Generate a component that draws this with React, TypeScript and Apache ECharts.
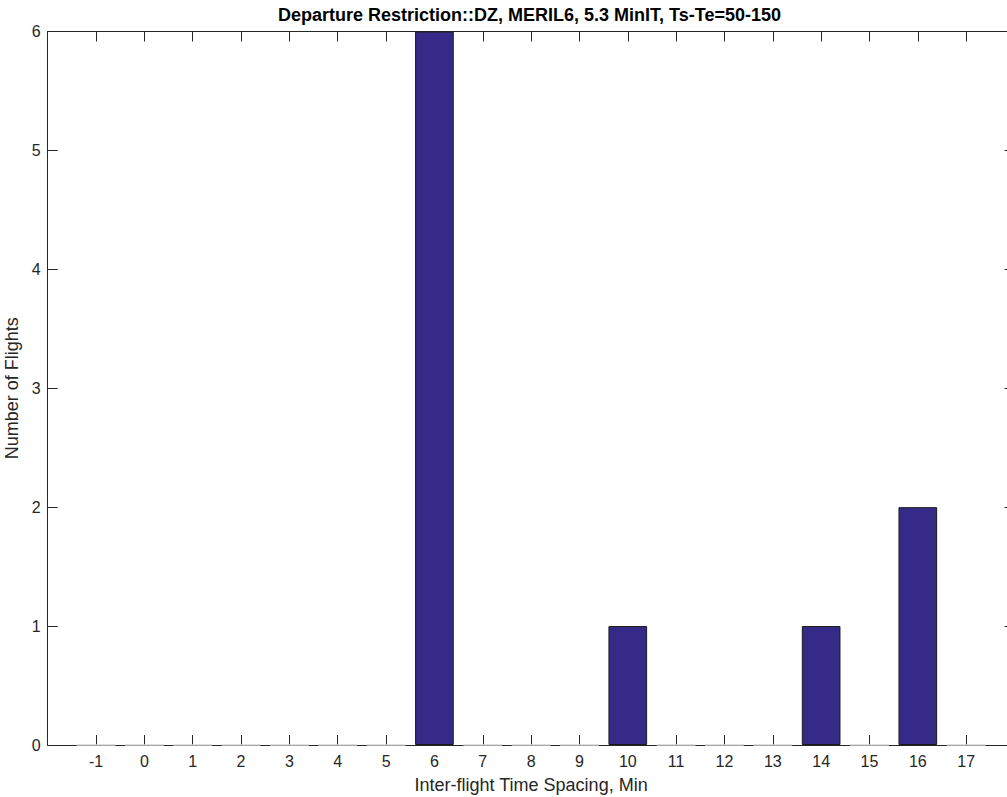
import React, { useEffect, useRef } from "react";
import * as echarts from "echarts";

const titleText = "Departure Restriction::DZ, MERIL6, 5.3 MinIT, Ts-Te=50-150";
const xAxisName = "Inter-flight Time Spacing, Min";
const yAxisName = "Number of Flights";
const spacingMin = [-1, 0, 1, 2, 3, 4, 5, 6, 7, 8, 9, 10, 11, 12, 13, 14, 15, 16, 17];
const flightCounts = [0, 0, 0, 0, 0, 0, 0, 6, 0, 0, 0, 1, 0, 0, 0, 1, 0, 2, 0];
const yTicks = [0, 1, 2, 3, 4, 5, 6];

const AXIS = "#262626";
const BAR = "#352a87";

export default function App() {
  const ref = useRef<HTMLDivElement>(null);
  useEffect(() => {
    if (!ref.current) return;
    const chart = echarts.init(ref.current, undefined, { renderer: "svg" });
    const data = spacingMin.map((x, i) => {
      const v = flightCounts[i];
      return v === 0
        ? { value: [x, v], itemStyle: { borderColor: "#d4d4d4", borderWidth: 1 } }
        : { value: [x, v] };
    });
    const CW = 1040;
    const plotLeft = 47.7;
    const unit = 48.34;
    const plotRight = plotLeft + 20 * unit;
    const font = "Arial, 'Liberation Sans', Helvetica, sans-serif";
    const tickStyle = { show: true, inside: true, length: 10, lineStyle: { color: AXIS, width: 1 } };
    const lineStyle = { show: true, onZero: false, lineStyle: { color: AXIS, width: 1 } };
    chart.setOption({
      animation: false,
      backgroundColor: "#ffffff",
      textStyle: { fontFamily: font },
      title: {
        text: titleText,
        left: 278,
        top: 6,
        padding: 0,
        textStyle: { fontSize: 18, fontWeight: "bold", color: "#000", fontFamily: font },
      },
      grid: {
        left: plotLeft,
        top: 31.5,
        bottom: 52,
        right: CW - plotRight,
        containLabel: false,
        outerBoundsMode: "none",
      },
      xAxis: [
        {
          type: "value",
          min: -2,
          max: 18,
          interval: 1,
          position: "bottom",
          name: xAxisName,
          nameLocation: "middle",
          nameGap: 31,
          nameTextStyle: { fontSize: 18, color: AXIS, fontFamily: font },
          axisLine: lineStyle,
          axisTick: tickStyle,
          axisLabel: {
            fontSize: 16,
            color: AXIS,
            margin: 8,
            showMinLabel: false,
            showMaxLabel: false,
            formatter: (v: number) => (spacingMin.includes(v) ? String(v) : ""),
          },
          splitLine: { show: false },
        },
        {
          type: "value",
          min: -2,
          max: 18,
          interval: 1,
          position: "top",
          axisLine: lineStyle,
          axisTick: tickStyle,
          axisLabel: { show: false },
          splitLine: { show: false },
        },
      ],
      yAxis: [
        {
          type: "value",
          min: yTicks[0],
          max: yTicks[yTicks.length - 1],
          interval: 1,
          position: "left",
          name: yAxisName,
          nameLocation: "middle",
          nameGap: 23,
          nameTextStyle: { fontSize: 18, color: AXIS, fontFamily: font },
          axisLine: lineStyle,
          axisTick: tickStyle,
          axisLabel: { fontSize: 16, color: AXIS, margin: 7 },
          splitLine: { show: false },
        },
        {
          type: "value",
          min: yTicks[0],
          max: yTicks[yTicks.length - 1],
          interval: 1,
          position: "right",
          axisLine: lineStyle,
          axisTick: tickStyle,
          axisLabel: { show: false },
          splitLine: { show: false },
        },
      ],
      series: [
        {
          type: "bar",
          xAxisIndex: 0,
          yAxisIndex: 0,
          barWidth: 0.8 * unit,
          itemStyle: { color: BAR, borderColor: "#1a1a1a", borderWidth: 1 },
          data,
          z: 1,
        },
      ],
    });
    return () => chart.dispose();
  }, []);
  return (
    <div
      style={{
        position: "fixed",
        left: 0,
        top: 0,
        width: 1007,
        height: 797,
        overflow: "hidden",
        background: "#fff",
      }}
    >
      <div ref={ref} style={{ width: 1040, height: 797 }} />
    </div>
  );
}
